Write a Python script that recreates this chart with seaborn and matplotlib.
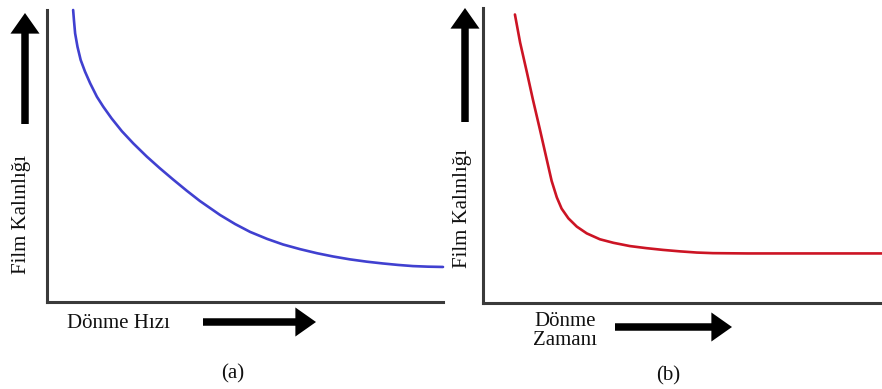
import matplotlib
matplotlib.use("Agg")
import matplotlib.pyplot as plt
import seaborn as sns
import pandas as pd

# (a) film thickness vs. spin speed
speed = [0.66, 0.68, 0.71, 0.77, 0.85, 0.96, 1.09, 1.26, 1.42, 1.63,
         1.89, 2.18, 2.52, 2.85, 3.18, 3.53, 3.86, 4.37, 4.75, 5.13,
         5.56, 5.96, 6.39, 6.82, 7.22, 7.65, 8.08, 8.48, 8.86, 9.24,
         9.62, 10.0]
thickness_a = [10.0, 9.66, 9.20, 8.74, 8.29, 7.89, 7.49, 7.03, 6.69, 6.29,
               5.85, 5.43, 4.98, 4.58, 4.20, 3.81, 3.46, 2.98, 2.67, 2.40,
               2.16, 1.97, 1.81, 1.67, 1.56, 1.46, 1.38, 1.32, 1.27, 1.23,
               1.21, 1.20]

# (b) film thickness vs. spin time
spin_time = [0.80, 0.93, 1.10, 1.25, 1.43, 1.60, 1.72, 1.85, 1.97, 2.14,
             2.35, 2.60, 2.93, 3.27, 3.68, 4.09, 4.51, 4.94, 5.36, 5.76,
             6.62, 7.94, 10.0]
thickness_b = [9.78, 8.83, 7.82, 6.90, 5.86, 4.85, 4.14, 3.58, 3.20, 2.87,
               2.59, 2.36, 2.16, 2.04, 1.93, 1.86, 1.80, 1.75, 1.71, 1.69,
               1.68, 1.68, 1.68]

y_label = "Film Kalınlığı"
x_label_a = "Dönme Hızı"
x_label_b = "Dönme\nZamanı"
panel_tags = ["(a)", "(b)"]

sns.set_theme(style="white")
plt.rcParams["font.family"] = ["Liberation Serif", "DejaVu Serif"]

W, H = 882, 389
fig = plt.figure(figsize=(W / 100, H / 100), dpi=100)


def frac_box(x0, y0, x1, y1):
    """Pixel box (top-left origin) to figure fractions."""
    return [x0 / W, 1 - y1 / H, (x1 - x0) / W, (y1 - y0) / H]


def fx(px):
    return px / W


def fy(py):
    return 1 - py / H


def big_arrow(x0, y0, x1, y1):
    fig.add_artist(matplotlib.patches.FancyArrowPatch(
        (fx(x0), fy(y0)), (fx(x1), fy(y1)), transform=fig.transFigure,
        arrowstyle="simple,head_length=1.1,head_width=1.55,tail_width=0.4",
        mutation_scale=13.5, color="black", lw=0, shrinkA=0, shrinkB=0))


spine_color = "#3a3a3a"

ax_a = fig.add_axes(frac_box(47, 10, 443, 302))
ax_b = fig.add_axes(frac_box(483, 8, 882, 303))

df_a = pd.DataFrame({"x": speed, "y": thickness_a})
df_b = pd.DataFrame({"x": spin_time, "y": thickness_b})
sns.lineplot(data=df_a, x="x", y="y", ax=ax_a, color="#4040d0", lw=1.9,
             sort=False)
sns.lineplot(data=df_b, x="x", y="y", ax=ax_b, color="#cc1424", lw=1.9,
             sort=False)

for ax in (ax_a, ax_b):
    ax.set_xlim(0, 10)
    ax.set_ylim(0, 10)
    ax.set_xticks([])
    ax.set_yticks([])
    ax.set_xlabel("")
    ax.set_ylabel("")
    ax.set_facecolor("white")
    for side in ("top", "right"):
        ax.spines[side].set_visible(False)
    for side in ("left", "bottom"):
        ax.spines[side].set_color(spine_color)
        ax.spines[side].set_linewidth(2.2)
    for line in ax.lines:
        line.set_clip_on(False)
        line.set_solid_joinstyle("round")
        line.set_solid_capstyle("round")

fs = 15
# vertical axis labels with upward arrows
fig.text(fx(22), fy(214), y_label, rotation=90, ha="center", va="center",
         fontsize=fs, color="#111111")
fig.text(fx(463), fy(209), y_label, rotation=90, ha="center", va="center",
         fontsize=fs, color="#111111")
big_arrow(25, 124, 25, 13)
big_arrow(465, 122, 465, 8)

# horizontal axis labels with rightward arrows
fig.text(fx(118), fy(324), x_label_a, ha="center", va="center",
         fontsize=fs, color="#111111")
fig.text(fx(565), fy(331), x_label_b, ha="center", va="center",
         fontsize=fs, color="#111111", linespacing=1.0)
big_arrow(203, 322, 316, 322)
big_arrow(615, 327, 732, 327)

# panel tags
fig.text(fx(233), fy(374), panel_tags[0], ha="center", va="center",
         fontsize=fs, color="#111111")
fig.text(fx(668), fy(376), panel_tags[1], ha="center", va="center",
         fontsize=fs, color="#111111")

fig.savefig("out.png", dpi=100, facecolor="white")
